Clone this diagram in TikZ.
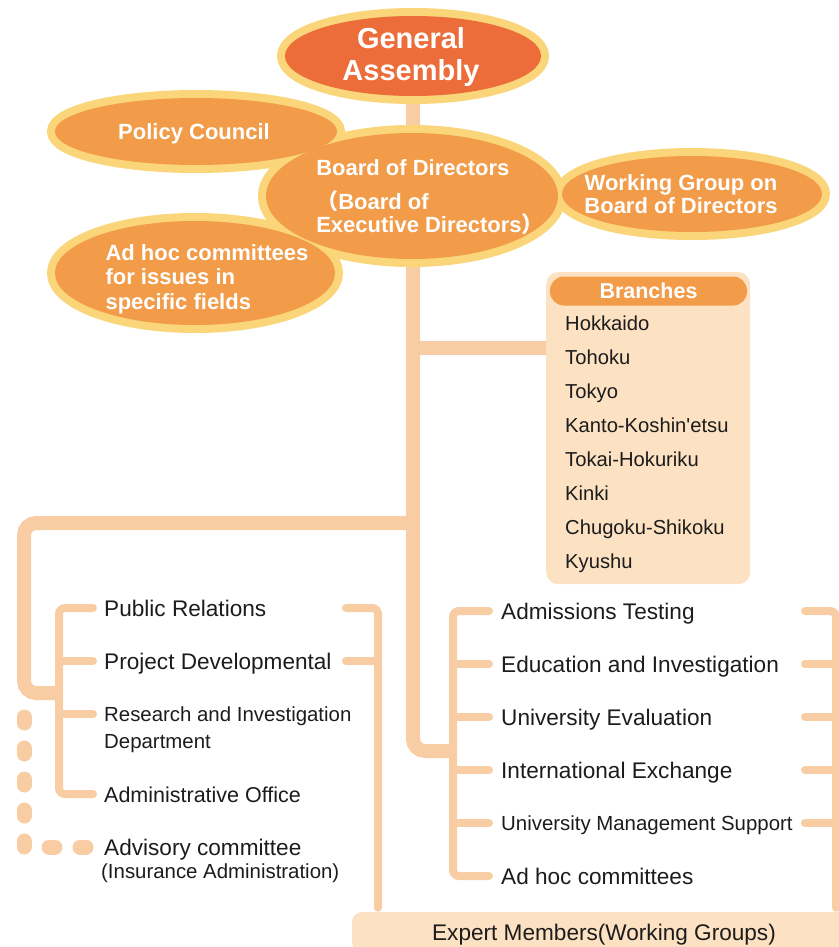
\documentclass[tikz,border=0pt]{standalone}
\usepackage{fontspec}
\setmainfont{Liberation Sans}
\newfontfamily\cjk{Noto Sans CJK JP}
\usetikzlibrary{positioning}

\definecolor{assemblyred}{RGB}{236,108,58}
\definecolor{bloborange}{RGB}{242,155,72}
\definecolor{rimyellow}{RGB}{250,213,122}
\definecolor{linepeach}{RGB}{249,205,164}
\definecolor{boxpeach}{RGB}{252,225,194}
\definecolor{inkgray}{RGB}{28,28,28}

\begin{document}
\begin{tikzpicture}[x=1pt, y=-1pt,
    trunk/.style={draw=linepeach, line width=14pt, rounded corners=12pt},
    bracket/.style={draw=linepeach, line width=8pt, line cap=round, rounded corners=6pt},
    dashline/.style={draw=linepeach, line width=15pt, line cap=round, dash pattern=on 6pt off 25pt},
    rim/.style={fill=rimyellow, draw=rimyellow, line width=16pt},
    blobtext/.style={text=white, inner sep=0pt, align=left, font=\bfseries\fontsize{22}{23}\selectfont},
    item/.style={anchor=west, inner sep=0pt, text=inkgray, text height=16pt, text depth=0pt, font=\fontsize{22.6}{24}\selectfont},
    smallitem/.style={item, text height=15pt, font=\fontsize{20.4}{22}\selectfont},
    branchitem/.style={item, text height=14.5pt, font=\fontsize{20.2}{22}\selectfont},
  ]
  \useasboundingbox (0,0) rectangle (838,947);

  % ---- centres of the blobs -----------------------
  \coordinate (cGA)      at (413,56);
  \coordinate (cBoard)   at (412,196);
  \coordinate (cPolicy)  at (196,131.5);
  \coordinate (cWorking) at (692,194);
  \coordinate (cAdhoc)   at (195,273);

  % ---- where the bars of the tree run -------------
  \coordinate (bsplit)  at (413,348);   % to the branches
  \coordinate (lsplit)  at (413,523);   % to the left group
  \coordinate (tfoot)   at (413,751);   % to the right group
  \coordinate (lcorner) at (24,693);
  \coordinate (lbar)    at (59,0);
  \coordinate (lrtick)  at (346,0);
  \coordinate (lrbar)   at (378,0);
  \coordinate (rbar)    at (453,0);
  \coordinate (rrtick)  at (805,0);
  \coordinate (rrbar)   at (836,0);

  % ---- trunk, behind everything -------------------
  \draw[trunk] (cGA) -- (tfoot) -- (tfoot -| rbar);
  \draw[trunk] (lsplit) -| (lcorner) -- (lcorner -| lbar);

  % ---- rims first, so that the blobs merge --------
  \path[rim] (cGA)      ellipse [x radius=128pt, y radius=40pt];
  \path[rim] (cPolicy)  ellipse [x radius=141pt, y radius=33.5pt];
  \path[rim] (cWorking) ellipse [x radius=130pt, y radius=38pt];
  \path[rim] (cAdhoc)   ellipse [x radius=140pt, y radius=52pt];
  \path[rim] (cBoard)   ellipse [x radius=146pt, y radius=63pt];

  \fill[assemblyred] (cGA)      ellipse [x radius=128pt, y radius=40pt];
  \fill[bloborange]  (cPolicy)  ellipse [x radius=141pt, y radius=33.5pt];
  \fill[bloborange]  (cWorking) ellipse [x radius=130pt, y radius=38pt];
  \fill[bloborange]  (cAdhoc)   ellipse [x radius=140pt, y radius=52pt];
  \fill[bloborange]  (cBoard)   ellipse [x radius=146pt, y radius=63pt];

  % ---- texts in the blobs -------------------------
  \node[blobtext, align=center, font=\bfseries\fontsize{29}{32}\selectfont] (assembly) at (411,57) {General\\Assembly};
  \node[blobtext] (policy) at (194,134) {Policy Council};
  \node[blobtext] (board) at (430,197) {Board of Directors\\[11pt]{\cjk （}Board of\\Executive Directors{\cjk ）}};
  \node[blobtext, align=center] (working) at (681,194) {Working Group on\\Board of Directors};
  \node[blobtext, font=\bfseries\fontsize{22}{24.5}\selectfont] (adhoc) at (207,279) {Ad hoc committees\\for issues in\\specific fields};

  % ---- branches -----------------------------------
  \node[fill=boxpeach, rounded corners=12pt, anchor=north west, minimum width=204pt, minimum height=312pt] (branches) at (546,272) {};
  \node[fill=bloborange, rounded corners=14pt, minimum width=197pt, minimum height=29pt, inner sep=0pt,
        text=white, font=\bfseries\fontsize{21.5}{22}\selectfont] (branchhead) at (648.5,291) {Branches};
  \node[branchitem] (hokkaido) at (565,323) {Hokkaido};
  \node[branchitem] (tohoku)   at (565,357) {Tohoku};
  \node[branchitem] (tokyo)    at (565,391) {Tokyo};
  \node[branchitem] (kanto)    at (565,425) {Kanto-Koshin\textquotesingle etsu};
  \node[branchitem] (tokai)    at (565,459) {Tokai-Hokuriku};
  \node[branchitem] (kinki)    at (565,493) {Kinki};
  \node[branchitem] (chugoku)  at (565,527) {Chugoku-Shikoku};
  \node[branchitem] (kyushu)   at (565,561) {Kyushu};
  \draw[trunk] (bsplit) -- (bsplit -| branches.west);

  % ---- expert members, at the foot ----------------
  \node[fill=boxpeach, rounded corners=10pt, minimum width=504pt, minimum height=40pt, inner sep=0pt,
        text=inkgray, text height=16pt, text depth=0pt, font=\fontsize{22.6}{24}\selectfont] (expert) at (604,932) {Expert Members(Working Groups)};

  % ---- left group ---------------------------------
  \node[item] (pubrel)  at (104,608) {Public Relations};
  \node[item] (projdev) at (104,661) {Project Developmental};
  \node[smallitem] (research) at (104,714) {Research and Investigation};
  \node[smallitem, below=12pt of research.south west, anchor=north west] (dept) {Department};
  \node[item, font=\fontsize{21.5}{24}\selectfont] (admoff) at (104,794) {Administrative Office};
  \node[item] (advisory) at (104,847) {Advisory committee};
  \node[smallitem, below=8pt of advisory.south west, anchor=north west, xshift=-3pt] (insurance) {(Insurance Administration)};

  \draw[bracket] ([xshift=-11pt]pubrel.west) -- (pubrel -| lbar) |- ([xshift=-11pt]admoff.west);
  \draw[bracket] ([xshift=-11pt]projdev.west) -- (projdev -| lbar);
  \draw[bracket] ([xshift=-11pt]research.west) -- (research -| lbar);
  \draw[bracket, shorten >=4pt] (pubrel -| lrtick) -- (pubrel -| lrbar) -- (expert.north -| lrbar);
  \draw[bracket] (projdev -| lrtick) -- (projdev -| lrbar);
  \draw[dashline] ([yshift=-24pt]lcorner) |- ([xshift=-15pt]advisory.west);   % dotted tie to the advisory committee

  % ---- right group --------------------------------
  \node[item] (admtest)  at (501,611) {Admissions Testing};
  \node[item] (eduinv)   at (501,664) {Education and Investigation};
  \node[item] (univeval) at (501,717) {University Evaluation};
  \node[item] (intlex)   at (501,770) {International Exchange};
  \node[smallitem] (univmgmt) at (501,823) {University Management Support};
  \node[item] (adhocs)   at (501,876) {Ad hoc committees};

  \draw[bracket] ([xshift=-12pt]admtest.west) -- (admtest -| rbar) |- ([xshift=-12pt]adhocs.west);
  \draw[bracket] ([xshift=-12pt]eduinv.west) -- (eduinv -| rbar);
  \draw[bracket] ([xshift=-12pt]univeval.west) -- (univeval -| rbar);
  \draw[bracket] ([xshift=-12pt]intlex.west) -- (intlex -| rbar);
  \draw[bracket] ([xshift=-12pt]univmgmt.west) -- (univmgmt -| rbar);
  \draw[bracket, shorten >=4pt] (admtest -| rrtick) -- (admtest -| rrbar) -- (expert.north -| rrbar);
  \draw[bracket] (eduinv -| rrtick) -- (eduinv -| rrbar);
  \draw[bracket] (univeval -| rrtick) -- (univeval -| rrbar);
  \draw[bracket] (intlex -| rrtick) -- (intlex -| rrbar);
  \draw[bracket] (univmgmt -| rrtick) -- (univmgmt -| rrbar);
\end{tikzpicture}
\end{document}
